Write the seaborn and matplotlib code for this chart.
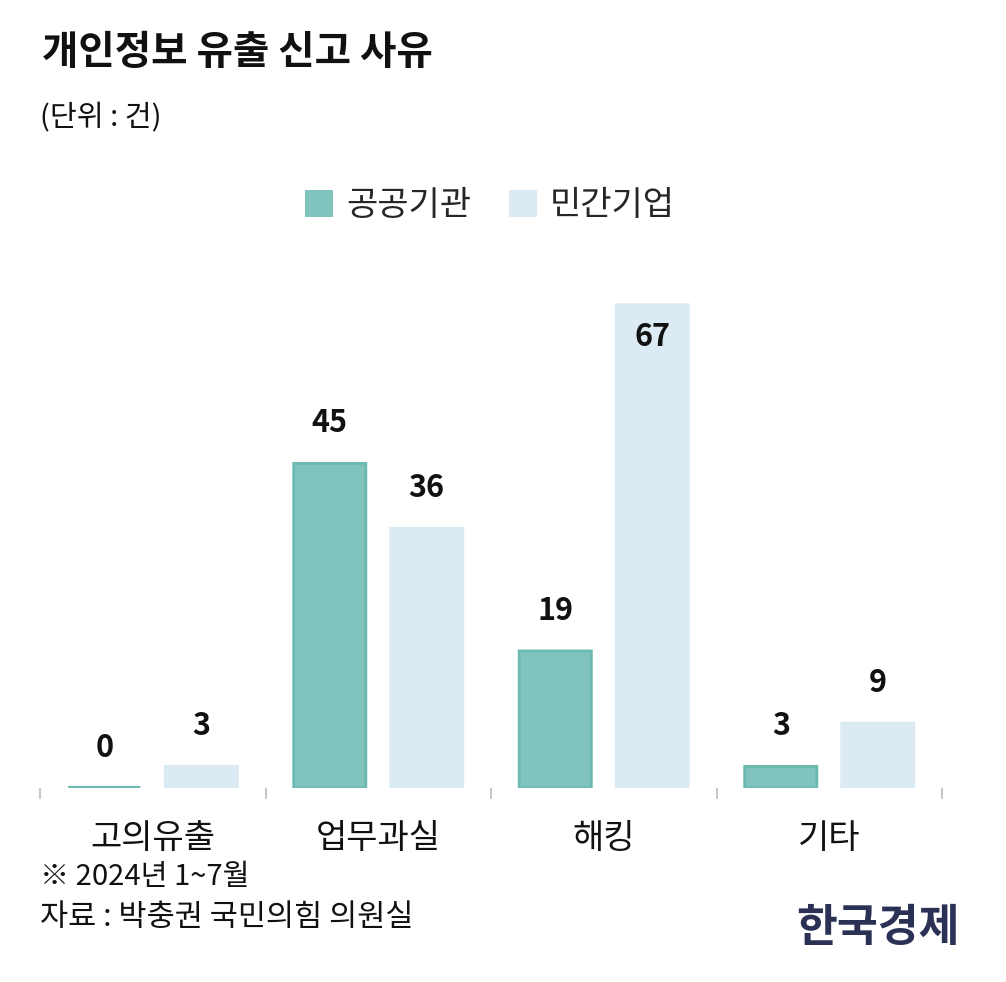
import matplotlib
matplotlib.use("Agg")
import matplotlib.pyplot as plt
from matplotlib.patches import Patch
import seaborn as sns
import pandas as pd

categories = ["고의유출", "업무과실", "해킹", "기타"]
series_names = ["공공기관", "민간기업"]
public_values = [0, 45, 19, 3]
private_values = [3, 36, 67, 9]

title = "개인정보 유출 신고 사유"
unit = "(단위 : 건)"
note1 = "※ 2024년 1~7월"
note2 = "자료 : 박충권 국민의힘 의원실"
logo = "한국경제"

fill_colors = ["#80c4bd", "#dcebf3"]
edge_colors = ["#6cb9b0", "#dcebf3"]

df = pd.DataFrame({
    "category": categories * 2,
    "series": [series_names[0]] * 4 + [series_names[1]] * 4,
    "value": public_values + private_values,
})

sns.set_theme(style="white")
plt.rcParams["font.family"] = ["Noto Sans CJK KR", "DejaVu Sans"]

W, H = 1006, 982
fig = plt.figure(figsize=(W / 100, H / 100), dpi=100)
ax = fig.add_axes([40 / W, 1 - 788 / H, (942 - 40) / W, (788 - 283) / H])

sns.barplot(data=df, x="category", y="value", hue="series", order=categories,
            hue_order=series_names, palette=fill_colors, width=0.86, gap=0.256,
            ax=ax, legend=False, saturation=1)

for i, cont in enumerate(ax.containers):
    for p in cont:
        h = p.get_height()
        p.set_edgecolor(edge_colors[i])
        p.set_linewidth(3.0 if h == 0 else 2.0)
        p.set_joinstyle("miter")
        p.set_snap(False)
        x = p.get_x() + p.get_width() / 2
        off = -23 if h > 60 else 29
        ax.annotate(f"{int(h)}", (x, h), xytext=(0, off), textcoords="offset points",
                    ha="center", va="center", fontsize=22, fontweight="bold",
                    color="#111111")

ax.set_xlim(-0.5, 3.5)
ax.set_ylim(0, 70)
ax.set_xlabel("")
ax.set_ylabel("")
ax.set_yticks([])
for s in ax.spines.values():
    s.set_visible(False)
ax.set_xticks(range(len(categories)))
ax.set_xticklabels(categories, fontsize=24.5, color="#111111")
ax.tick_params(axis="x", which="major", length=0, pad=24)
ax.set_xticks([-0.5, 0.5, 1.5, 2.5, 3.5], minor=True)
ax.tick_params(axis="x", which="minor", length=8, width=1.5, color="#c8c8c8",
               direction="out", bottom=True)

handles = [Patch(facecolor=fill_colors[0], edgecolor="none"),
           Patch(facecolor=fill_colors[1], edgecolor="none")]
fig.legend(handles, series_names, loc="center", bbox_to_anchor=(490 / W, 1 - 206 / H),
           ncol=2, frameon=False, fontsize=24.5, handlelength=0.82, handleheight=0.82,
           handletextpad=0.4, columnspacing=1.1)

fig.text(42 / W, 1 - 52 / H, title, fontsize=28.5, fontweight="bold", ha="left",
         va="center", color="#111111")
fig.text(40 / W, 1 - 118 / H, unit, fontsize=21, ha="left", va="center", color="#111111")
fig.text(40 / W, 1 - 877 / H, note1, fontsize=21, ha="left", va="center", color="#111111")
fig.text(40 / W, 1 - 917 / H, note2, fontsize=22, ha="left", va="center", color="#111111")
fig.text(960 / W, 1 - 928 / H, logo, fontsize=32, fontweight="bold", ha="right",
         va="center", color="#2b3154")

fig.savefig("out.png", dpi=100, facecolor="white")
